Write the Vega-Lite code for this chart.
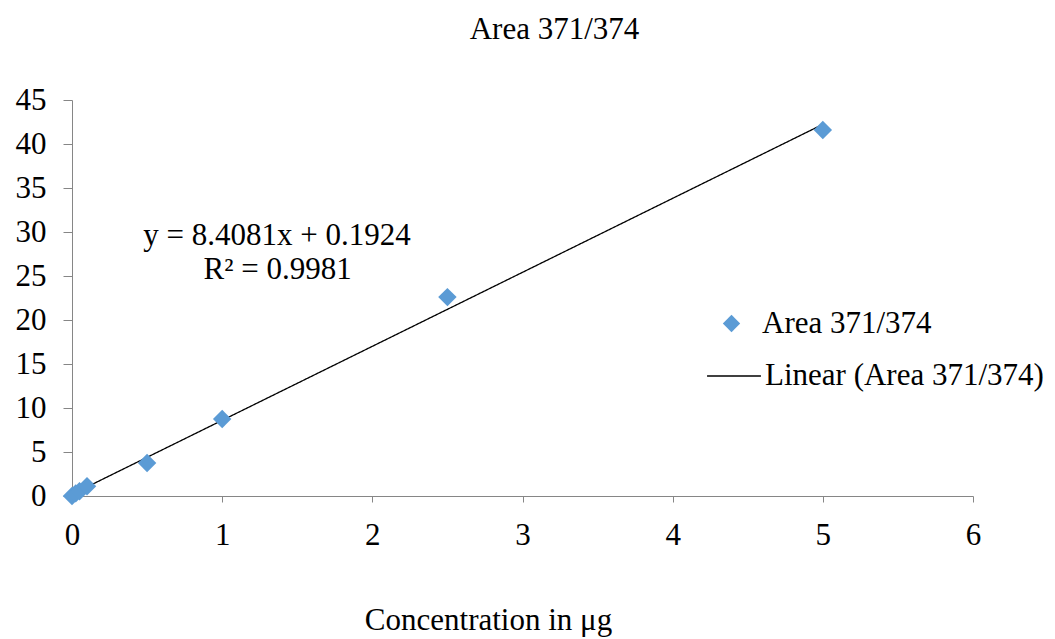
{
  "$schema": "https://vega.github.io/schema/vega-lite/v6.json",
  "width": 901,
  "height": 396,
  "autosize": {"type": "none"},
  "padding": {"left": 72, "top": 100, "right": 82, "bottom": 143},
  "background": "white",
  "title": {
    "text": "Area 371/374",
    "font": "Liberation Serif",
    "fontSize": 31,
    "fontWeight": "normal",
    "color": "black",
    "anchor": "middle",
    "dx": 32,
    "offset": 7,
    "baseline": "bottom"
  },
  "datasets": {
    "points": [
      {"conc": 0, "area": 0.0, "series": "Area 371/374"},
      {"conc": 0.025, "area": 0.3, "series": "Area 371/374"},
      {"conc": 0.05, "area": 0.55, "series": "Area 371/374"},
      {"conc": 0.1, "area": 1.1, "series": "Area 371/374"},
      {"conc": 0.5, "area": 3.75, "series": "Area 371/374"},
      {"conc": 1, "area": 8.75, "series": "Area 371/374"},
      {"conc": 2.5, "area": 22.6, "series": "Area 371/374"},
      {"conc": 5, "area": 41.6, "series": "Area 371/374"}
    ],
    "trend": [
      {"conc": 0, "area": 0.1924, "series": "Linear (Area 371/374)"},
      {"conc": 5, "area": 42.233, "series": "Linear (Area 371/374)"}
    ],
    "notes": [
      {"conc": 1.365, "area": 29.55, "label": "y = 8.4081x + 0.1924"},
      {"conc": 1.37, "area": 25.7, "label": "R² = 0.9981"}
    ]
  },
  "config": {
    "font": "Liberation Serif",
    "view": {"stroke": null},
    "axis": {
      "labelFont": "Liberation Serif",
      "labelFontSize": 31,
      "labelColor": "black",
      "titleFont": "Liberation Serif",
      "titleFontSize": 31,
      "titleFontWeight": "normal",
      "titleColor": "black",
      "domainColor": "#868686",
      "tickColor": "#868686",
      "domainWidth": 1,
      "tickWidth": 1,
      "grid": false,
      "labelFlush": false
    }
  },
  "layer": [
    {
      "data": {"name": "trend"},
      "mark": {"type": "line", "color": "black", "strokeWidth": 1.3},
      "encoding": {
        "x": {
          "field": "conc",
          "type": "quantitative",
          "scale": {"domain": [0, 6], "nice": false},
          "axis": {
            "values": [0, 1, 2, 3, 4, 5, 6],
            "format": "d",
            "labelFont": "Liberation Serif",
            "labelFontSize": 31,
            "labelFlush": false,
            "tickSize": 6,
            "labelPadding": 18,
            "title": "Concentration in μg",
            "titleX": 416,
            "titleY": 133,
            "titleAlign": "center",
            "titleBaseline": "alphabetic",
            "titleAnchor": null
          }
        },
        "y": {
          "field": "area",
          "type": "quantitative",
          "scale": {"domain": [0, 45], "nice": false},
          "axis": {
            "values": [0, 5, 10, 15, 20, 25, 30, 35, 40, 45],
            "format": "d",
            "labelFont": "Liberation Serif",
            "labelFontSize": 31,
            "labelFlush": false,
            "tickSize": 9,
            "labelPadding": 17,
            "title": null
          }
        },
        "strokeDash": {
          "field": "series",
          "type": "nominal",
          "scale": {"domain": ["Linear (Area 371/374)"], "range": [[1, 0]]},
          "legend": {
            "orient": "none",
            "legendX": 634,
            "legendY": 248,
            "padding": 0,
            "title": null,
            "symbolType": "stroke",
            "symbolSize": 2900,
            "symbolStrokeColor": "black",
            "symbolStrokeWidth": 1.3,
            "labelFont": "Liberation Serif",
            "labelFontSize": 31,
            "labelColor": "black",
            "labelOffset": 3,
            "labelLimit": 500
          }
        }
      }
    },
    {
      "data": {"name": "points"},
      "mark": {"type": "point", "filled": true, "color": "#5B9BD5", "size": 340, "opacity": 1},
      "encoding": {
        "x": {"field": "conc", "type": "quantitative"},
        "y": {"field": "area", "type": "quantitative"},
        "shape": {
          "field": "series",
          "type": "nominal",
          "scale": {"domain": ["Area 371/374"], "range": ["diamond"]},
          "legend": {
            "orient": "none",
            "legendX": 644,
            "legendY": 208,
            "padding": 0,
            "title": null,
            "symbolSize": 300,
            "symbolFillColor": "#5B9BD5",
            "symbolStrokeColor": "#5B9BD5",
            "symbolOpacity": 1,
            "labelFont": "Liberation Serif",
            "labelFontSize": 31,
            "labelColor": "black",
            "labelOffset": 15,
            "labelLimit": 500
          }
        }
      }
    },
    {
      "data": {"name": "notes"},
      "mark": {"type": "text", "font": "Liberation Serif", "fontSize": 31, "color": "black", "align": "center", "baseline": "middle"},
      "encoding": {
        "x": {"field": "conc", "type": "quantitative"},
        "y": {"field": "area", "type": "quantitative"},
        "text": {"field": "label"}
      }
    }
  ]
}
